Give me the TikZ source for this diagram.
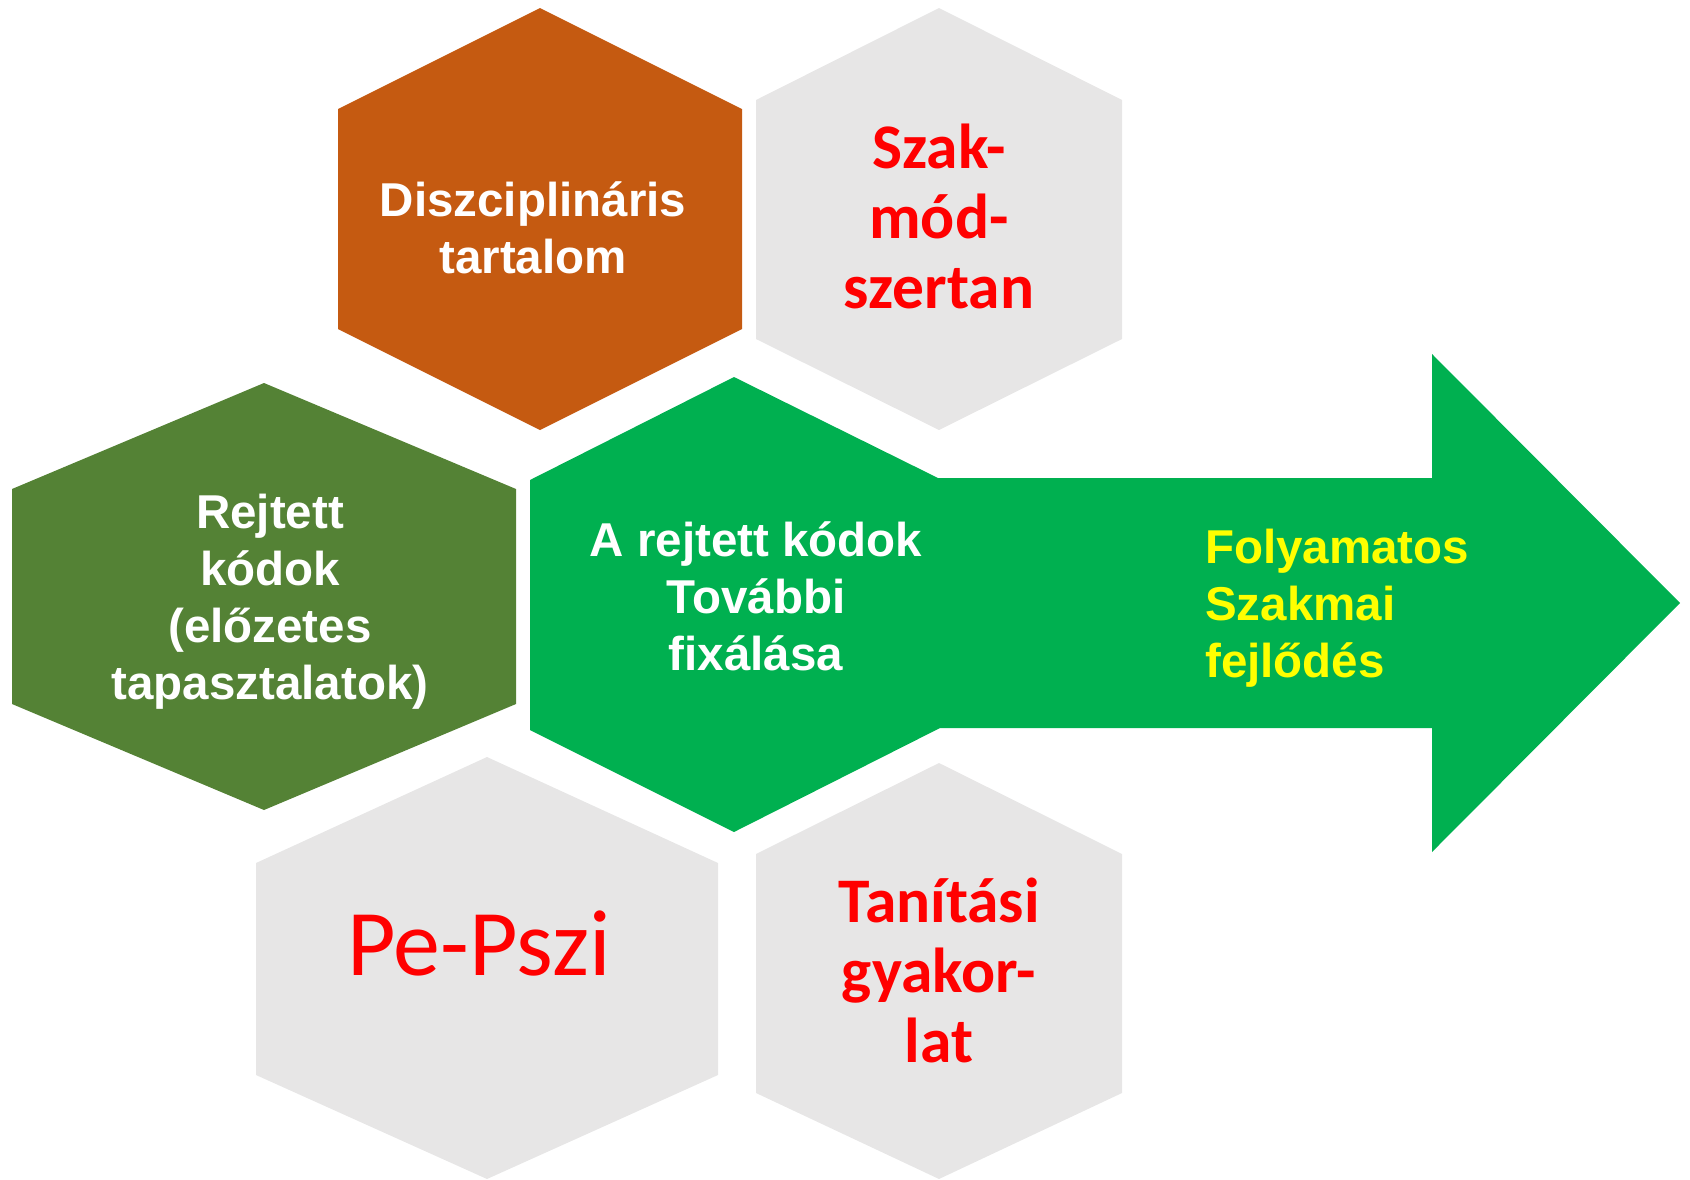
\documentclass[tikz,border=0pt]{standalone}
\usepackage{fontspec}
\setmainfont{Liberation Sans}
\newfontfamily\calibri{Carlito}
\usepackage{tikz}
\usetikzlibrary{positioning}
\definecolor{HexOrange}{HTML}{C55A11}
\definecolor{HexOlive}{HTML}{548235}
\definecolor{HexGreen}{HTML}{00B050}
\definecolor{HexGrey}{HTML}{E7E6E6}
\definecolor{HexRed}{HTML}{FF0000}
\definecolor{HexYellow}{HTML}{FFFF00}
% hexagon: centre x, half width, top, upper shoulder, lower shoulder, bottom
\newcommand{\hexcell}[7]{%
  \fill[#1] (#2,#4) -- ({#2+#3},#5) -- ({#2+#3},#6) -- (#2,#7)
            -- ({#2-#3},#6) -- ({#2-#3},#5) -- cycle;}

\begin{document}
\begin{tikzpicture}[x=1pt, y=-1pt,
    whitetext/.style={text=white, inner sep=0pt, anchor=base, align=center,
                      font=\bfseries\fontsize{47.5}{57}\selectfont},
    redtext/.style={text=HexRed, inner sep=0pt, anchor=base, align=center,
                    font=\calibri\bfseries\fontsize{63.5}{70}\selectfont}]
  \useasboundingbox (0,0) rectangle (1690,1179);

  % cells
  \hexcell{HexOrange}{540}{202}{8}{109}{329}{430}
  \hexcell{HexGrey}{939}{183}{8}{100}{339}{430}
  \hexcell{HexOlive}{264}{252}{383}{489}{704}{810}
  \hexcell{HexGrey}{487}{231}{757}{863}{1075}{1179}
  \hexcell{HexGrey}{939}{183}{763}{854}{1093}{1179}
  % green cell with arrow
  \fill[HexGreen] (530,480) -- (734,377) -- (938,478) -- (1432,478)
    -- (1432,354) -- (1680,603) -- (1432,852) -- (1432,728)
    -- (940,728) -- (734,832) -- (530,730) -- cycle;

  % labels (base = last line)
  \node[whitetext] (disc) at (533,273) {Diszciplináris\\tartalom};
  \node[redtext] (szak) at (939,308) {Szak-\\mód-\\szertan};
  \node[whitetext] (rejt) at (270,699)
    {Rejtett\\kódok\\(előzetes\\tapasztalatok)};
  \node[whitetext] (fix) at (756,670) {A rejtett kódok\\További\\fixálása};
  \node[whitetext, text=HexYellow, anchor=base west, align=left] (foly)
    at (1205,677) {Folyamatos\\Szakmai\\fejlődés};
  \node[text=HexRed, inner sep=0pt, anchor=base,
        font=\calibri\fontsize{94}{100}\selectfont] (pepszi) at (479,975) {Pe-Pszi};
  \node[redtext] (tan) at (939,1062) {Tanítási\\gyakor-\\lat};
\end{tikzpicture}
\end{document}
